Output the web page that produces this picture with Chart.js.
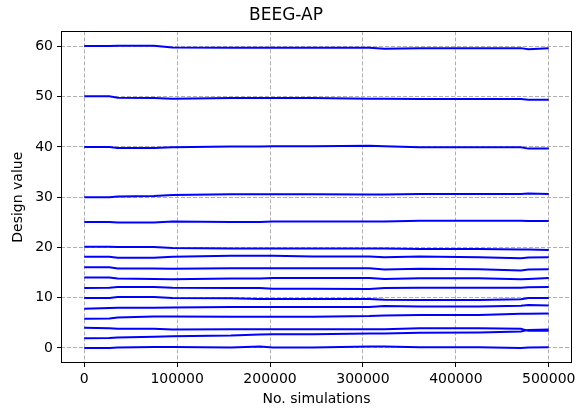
<!DOCTYPE html>
<html>
<head>
<meta charset="utf-8">
<script src="https://cdn.jsdelivr.net/npm/chart.js@4.4.0/dist/chart.umd.min.js"></script>
<style>
html, body { margin: 0; padding: 0; background: #fff; }
</style>
</head>
<body>
<canvas id="BeegChart" width="580" height="415"></canvas>
<script>
// checkpoints (no. simulations)
const sims = [0, 27000, 36000, 75000, 95000, 158000, 189000, 203000, 246000, 307000, 323000, 361000, 425000, 470000, 478000, 500000];

const design_60 = [60.07, 60.07, 60.13, 60.13, 59.8, 59.74, 59.74, 59.74, 59.74, 59.74, 59.54, 59.67, 59.67, 59.67, 59.45, 59.67];
const design_50 = [50.07, 50.07, 49.8, 49.74, 49.6, 49.74, 49.74, 49.74, 49.74, 49.6, 49.6, 49.54, 49.54, 49.54, 49.4, 49.4];
const design_40 = [40, 40, 39.8, 39.8, 39.93, 40.07, 40.07, 40.13, 40.13, 40.26, 40.13, 39.93, 39.93, 39.93, 39.67, 39.67];
const design_30 = [30, 30, 30.13, 30.26, 30.46, 30.6, 30.6, 30.6, 30.6, 30.53, 30.53, 30.66, 30.66, 30.66, 30.73, 30.66];
const design_25 = [25.05, 25.05, 24.98, 24.98, 25.18, 25.05, 25.05, 25.18, 25.18, 25.18, 25.18, 25.31, 25.31, 25.31, 25.25, 25.25];
const design_20 = [20.13, 20.13, 20.07, 20.07, 19.87, 19.8, 19.8, 19.8, 19.8, 19.8, 19.8, 19.67, 19.67, 19.6, 19.6, 19.47];
const design_18 = [18.13, 18.13, 17.93, 17.93, 18.13, 18.33, 18.33, 18.33, 18.2, 18.2, 18.07, 18.2, 18.07, 17.87, 18, 18.07];
const design_16 = [16.07, 16.07, 15.8, 15.8, 15.74, 15.87, 15.87, 15.87, 15.87, 15.87, 15.6, 15.74, 15.67, 15.4, 15.6, 15.67];
const design_14 = [14, 14, 13.8, 13.74, 13.67, 13.8, 13.8, 13.93, 13.93, 13.93, 13.74, 13.87, 13.87, 13.67, 13.74, 13.93];
const design_12 = [11.93, 12, 12.13, 12.13, 12, 11.93, 11.93, 11.8, 11.8, 11.74, 11.93, 12, 12, 12, 12.07, 12.13];
const design_10 = [9.93, 9.93, 10.13, 10.13, 9.93, 9.87, 9.74, 9.74, 9.74, 9.74, 9.6, 9.54, 9.54, 9.67, 9.93, 9.93];
const design_8 = [7.8, 7.93, 8, 8, 8.07, 8.13, 8.13, 8.13, 8.13, 8.13, 8.33, 8.26, 8.26, 8.4, 8.53, 8.46];
const design_6 = [5.8, 5.87, 6.07, 6.26, 6.26, 6.2, 6.2, 6.2, 6.2, 6.33, 6.46, 6.53, 6.53, 6.8, 6.8, 6.86];
const design_4 = [4, 3.93, 3.8, 3.8, 3.67, 3.74, 3.74, 3.74, 3.74, 3.74, 3.74, 3.93, 3.93, 3.8, 3.4, 3.4];
const design_2 = [1.93, 2, 2.07, 2.2, 2.33, 2.46, 2.66, 2.73, 2.73, 2.86, 2.86, 3, 3.06, 3.26, 3.59, 3.66];
const design_0 = [0, 0, 0.07, 0.2, 0.2, 0.07, 0.26, 0.07, 0.07, 0.26, 0.26, 0.13, 0.13, 0, 0.07, 0.13];

const allSeries = [design_60, design_50, design_40, design_30, design_25, design_20, design_18, design_16,
    design_14, design_12, design_10, design_8, design_6, design_4, design_2, design_0];

const xTicks = [0, 100000, 200000, 300000, 400000, 500000];
const yTicks = [0, 10, 20, 30, 40, 50, 60];

const FONT = 'DejaVu Sans';

const datasets = allSeries.map((vals, i) => ({
    label: 'design ' + i,
    data: vals.map((v, j) => ({ x: sims[j], y: v })),
    borderColor: '#0000ff',
    backgroundColor: '#0000ff',
    borderWidth: 2,
    pointRadius: 0,
    tension: 0,
    fill: false
}));

// black frame round the plot area (matplotlib style spines)
const frameBox = {
    id: 'frameBox',
    afterDraw(chart) {
        const a = chart.chartArea;
        const ctx = chart.ctx;
        ctx.save();
        ctx.strokeStyle = '#000';
        ctx.lineWidth = 1;
        const l = Math.round(a.left) + 0.5, t = Math.round(a.top) + 0.5;
        const r = Math.round(a.right) - 0.5, b = Math.round(a.bottom) - 0.5;
        ctx.strokeRect(l, t, r - l, b - t);
        ctx.restore();
    }
};

const config_beeg = {
    type: 'line',
    data: { datasets: datasets },
    plugins: [frameBox],
    options: {
        responsive: false,
        animation: false,
        layout: { padding: { left: 0, right: 8, top: 0, bottom: 0 } },
        scales: {
            x: {
                type: 'linear',
                min: -25000,
                max: 525000,
                afterBuildTicks: (scale) => { scale.ticks = xTicks.map(v => ({ value: v })); },
                afterFit: (scale) => { scale.height = 52; },
                ticks: {
                    autoSkip: false,
                    maxRotation: 0,
                    padding: 4,
                    color: '#000',
                    font: { family: FONT, size: 14 },
                    callback: (v) => String(v)
                },
                grid: {
                    color: '#b0b0b0',
                    lineWidth: 1,
                    tickLength: 4,
                    tickColor: '#000',
                    tickBorderDash: []
                },
                border: { display: false, dash: [4, 2] },
                title: {
                    display: true,
                    text: 'No. simulations',
                    color: '#000',
                    font: { family: FONT, size: 14 },
                    padding: { top: 4, bottom: 7 }
                }
            },
            y: {
                type: 'linear',
                min: -3,
                max: 63,
                afterBuildTicks: (scale) => { scale.ticks = yTicks.map(v => ({ value: v })); },
                afterFit: (scale) => { scale.width = 61; },
                ticks: {
                    padding: 4,
                    color: '#000',
                    font: { family: FONT, size: 14 }
                },
                grid: {
                    color: '#b0b0b0',
                    lineWidth: 1,
                    tickLength: 4,
                    tickColor: '#000',
                    tickBorderDash: []
                },
                border: { display: false, dash: [4, 2] },
                title: {
                    display: true,
                    text: 'Design value',
                    color: '#000',
                    font: { family: FONT, size: 14 },
                    padding: { top: 10, bottom: 0 }
                }
            }
        },
        plugins: {
            legend: { display: false },
            tooltip: { enabled: false },
            title: {
                display: true,
                text: 'BEEG-AP',
                color: '#000',
                font: { family: FONT, size: 17, weight: 'normal' },
                padding: { top: 5, bottom: 6 }
            }
        }
    }
};

const myChart_Beeg = new Chart(
    document.getElementById('BeegChart'),
    config_beeg
);
</script>
</body>
</html>
